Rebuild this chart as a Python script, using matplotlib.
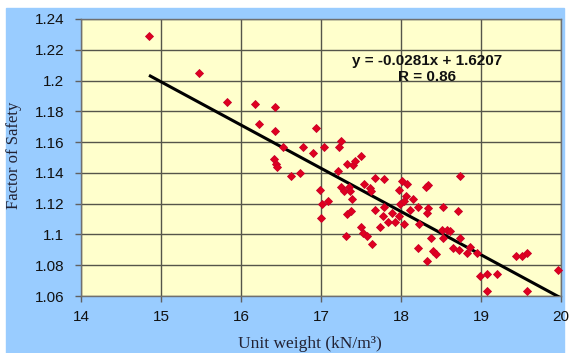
import matplotlib
matplotlib.use('Agg')
import numpy as np
import matplotlib.pyplot as plt
from matplotlib.patches import Rectangle

# unit weight (kN/m3) vs factor of safety
unit_weight = [
    14.85, 15.47, 15.82, 16.175, 16.425, 16.22, 16.425, 16.94, 16.52, 16.77,
    16.90, 16.41, 16.44, 16.45, 16.62, 16.74, 16.99, 17.01, 17.09, 17.00,
    17.04, 17.25, 17.23, 17.50, 17.32, 17.40, 17.43, 17.21, 17.25, 17.29,
    17.35, 17.36, 17.39, 17.33, 17.38, 17.31, 17.675, 17.79, 17.54, 17.61,
    17.625, 18.01, 18.08, 17.97, 18.06, 18.15, 17.99, 18.04, 18.34, 18.31,
    17.675, 17.79, 17.89, 17.98, 18.11, 18.21, 18.34, 18.32, 17.77, 17.84,
    17.93, 18.04, 17.74, 18.22, 17.50, 17.53, 17.58, 17.64, 18.21, 18.53,
    18.71, 18.74, 18.51, 18.57, 18.61, 18.53, 18.38, 18.74, 18.65, 18.72,
    18.40, 18.44, 18.33, 18.83, 18.86, 18.95, 19.44, 19.51, 19.57, 18.99,
    19.07, 19.20, 19.07, 19.57, 19.96,
]
safety_factor = [
    1.229, 1.205, 1.186, 1.185, 1.183, 1.172, 1.167, 1.169, 1.157, 1.157,
    1.153, 1.149, 1.146, 1.144, 1.138, 1.140, 1.129, 1.120, 1.122, 1.111,
    1.157, 1.161, 1.157, 1.151, 1.146, 1.145, 1.148, 1.141, 1.131, 1.128,
    1.131, 1.128, 1.123, 1.113, 1.115, 1.099, 1.137, 1.136, 1.133, 1.130,
    1.128, 1.135, 1.133, 1.129, 1.125, 1.123, 1.120, 1.122, 1.132, 1.131,
    1.116, 1.118, 1.114, 1.112, 1.116, 1.118, 1.117, 1.114, 1.112, 1.108,
    1.108, 1.107, 1.105, 1.107, 1.105, 1.101, 1.099, 1.094, 1.091, 1.118,
    1.115, 1.138, 1.103, 1.103, 1.102, 1.098, 1.098, 1.098, 1.091, 1.090,
    1.089, 1.087, 1.083, 1.088, 1.092, 1.088, 1.086, 1.086, 1.088, 1.073,
    1.074, 1.074, 1.063, 1.063, 1.077,
]

# trend line as given on the chart
slope = -0.0281
intercept = 1.6207
trend_x = [14.85, 20.0]

x_ticks = [14, 15, 16, 17, 18, 19, 20]
y_ticks = [1.24, 1.22, 1.20, 1.18, 1.16, 1.14, 1.12, 1.10, 1.08, 1.06]
y_tick_labels = ['1.24', '1.22', '1.2', '1.18', '1.16', '1.14', '1.12', '1.1', '1.08', '1.06']

W, H = 569, 353
fig = plt.figure(figsize=(W / 100, H / 100), dpi=100, facecolor='white')
fig.patches.append(Rectangle((6 / W, 0), (564 - 6) / W, (H - 8) / H,
                             transform=fig.transFigure, color='#99ccff', zorder=-5))

ax = fig.add_axes([81 / W, (H - 296) / H, (561 - 81) / W, (296 - 19) / H])
ax.set_facecolor('#ffffcc')

ax.set_xlim(14, 20)
ax.set_ylim(1.06, 1.24)
ax.set_xticks(x_ticks)
ax.set_yticks(y_ticks)
ax.set_yticklabels(y_tick_labels)
ax.grid(True, color='#55554a', linewidth=1.0)
ax.set_axisbelow(True)

for side in ax.spines.values():
    side.set_color('#707070')
    side.set_linewidth(1.0)
ax.tick_params(direction='out', length=4, width=1, color='#606060',
               labelsize=11, labelcolor='#111111')
ax.tick_params(axis='y', pad=8)
ax.tick_params(axis='x', pad=6)
for lab in ax.get_xticklabels() + ax.get_yticklabels():
    lab.set_family('Liberation Sans')

tx = np.array(trend_x)
ax.plot(tx, slope * tx + intercept, color='black', linewidth=2.2, zorder=3,
        solid_capstyle='butt', clip_on=True)
ax.plot(unit_weight, safety_factor, linestyle='none', marker='D',
        markersize=3.6, color='#e0001f', markeredgecolor='#c8002a',
        markeredgewidth=0.6, zorder=4, clip_on=False)

ax.text(18.325, 1.2127, 'y = -0.0281x + 1.6207', ha='center', va='center',
        fontsize=11, fontweight='bold', family='Liberation Sans', color='#111111', zorder=1)
ax.text(18.325, 1.2020, 'R = 0.86', ha='center', va='center',
        fontsize=11, fontweight='bold', family='Liberation Sans', color='#111111', zorder=1)

fig.text(14 / W, 1 - 155 / H, 'Factor of Safety', rotation=90, ha='center', va='center',
         fontsize=12, family='Liberation Serif', color='#222233')
fig.text(310 / W, 1 - 344 / H, 'Unit weight (kN/m³)', ha='center', va='center',
         fontsize=12.5, family='Liberation Serif', color='#222233')

fig.savefig('out.png', dpi=100, facecolor=fig.get_facecolor())
